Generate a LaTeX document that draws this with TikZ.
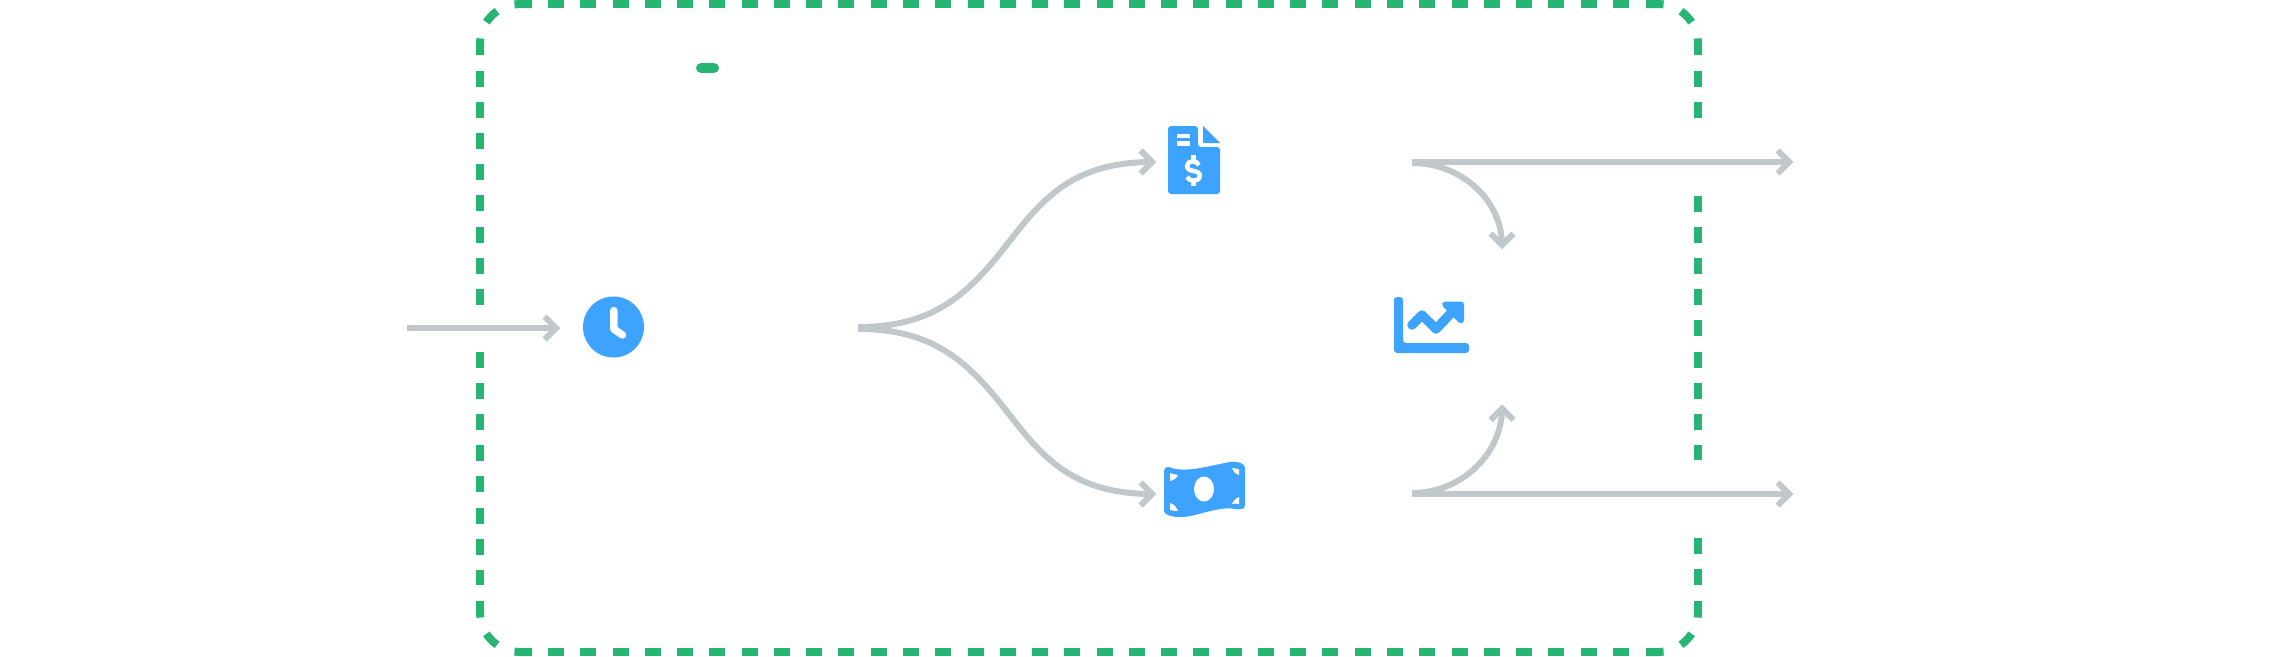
\documentclass[tikz,border=0pt]{standalone}
\definecolor{framegreen}{HTML}{27B574}
\definecolor{linegrey}{HTML}{C0C8CB}
\definecolor{iconblue}{HTML}{3EA3FF}
\tikzset{
  framedash/.style={draw=framegreen,line width=8pt,dash pattern=on 16pt off 15.1pt},
  framedashh/.style={draw=framegreen,line width=8pt,dash pattern=on 16pt off 16.27pt},
  framecurve/.style={draw=framegreen,line width=8pt},
  flow/.style={draw=linegrey,line width=6pt},
  chev/.style={draw=linegrey,line width=6pt,line join=miter,miter limit=4},
  iconfill/.style={fill=iconblue,draw=none},
  iconcut/.style={fill=white,draw=none},
  iconstroke/.style={draw=iconblue,line cap=round,line join=round},
  cutstroke/.style={draw=white,line cap=round,line join=round},
}
\begin{document}
\begin{tikzpicture}[x=1pt,y=-1pt]
\useasboundingbox (0,0) rectangle (2283,656);
% frame
\draw[framedashh] (548,4) -- (1630,4);
\draw[framedashh] (548,652) -- (1630,652);
\draw[framedash] (480,71) -- (480,305);
\draw[framedash] (480,352) -- (480,585);
\draw[framedash] (1698,71) -- (1698,118);
\draw[framedash] (1698,196) -- (1698,460);
\draw[framedash] (1698,538) -- (1698,585);
\foreach \sx/\sy in {1/1,-1/1,1/-1,-1/-1}{
  \begin{scope}[shift={(1089,328)},xscale=\sx,yscale=\sy]
    \draw[framecurve] (-557,-324) -- (-569,-324) arc[start angle=-90,end angle=-98,radius=40];
    \draw[framecurve] (-609,-273) -- (-609,-284) arc[start angle=180,end angle=188,radius=40];
    \draw[framecurve] (-569,-284) ++(-125:40) arc[start angle=-125,end angle=-147,radius=40];
  \end{scope}
}
% small pill
\draw[framegreen,line width=10pt,line cap=round] (701,68) -- (714,68);
% anchor points
\coordinate (inS) at (407,328);
\node[circle,iconfill,minimum size=61pt,inner sep=0pt] (clock) at (613.5,327) {};
\coordinate (inE) at (556,328);
\coordinate (branchU) at (858,327);
\coordinate (branchD) at (858,329);
\coordinate (midU) at (1005,247);
\coordinate (midD) at (1005,409);
\coordinate (invoiceIn) at (1152,162);
\coordinate (cashIn) at (1152,494);
\coordinate (topS) at (1412,162);
\coordinate (topE) at (1789,162);
\coordinate (botS) at (1412,494);
\coordinate (botE) at (1789,494);
\coordinate (arcTS) at (1412,163);
\coordinate (arcTE) at (1502,245);
\coordinate (arcBS) at (1412,493);
\coordinate (arcBE) at (1502,408.5);
% connectors
\draw[flow] (inS) -- (inE);
\draw[flow] (branchU) .. controls (930,327) and (965,298) .. (midU) .. controls (1040,202) and (1070,162) .. (invoiceIn);
\draw[flow] (branchD) .. controls (930,329) and (965,358) .. (midD) .. controls (1040,454) and (1070,494) .. (cashIn);
\draw[flow] (topS) -- (topE);
\draw[flow] (botS) -- (botE);
\draw[flow] (arcTS) .. controls (1461,163) and (1502,200) .. (arcTE);
\draw[flow] (arcBS) .. controls (1461,493) and (1502,454) .. (arcBE);
% arrowheads
\foreach \tip in {inE,invoiceIn,cashIn,topE,botE}{
  \draw[chev,shift={(\tip)}] (-11.4,-11.4) -- (0,0) -- (-11.4,11.4);
}
\draw[chev,shift={(arcTE)}] (-11.4,-11.4) -- (0,0) -- (11.4,-11.4);
\draw[chev,shift={(arcBE)}] (-11.4,11.4) -- (0,0) -- (11.4,11.4);
% clock hands
\draw[cutstroke,line width=7.5pt] (613.8,310.5) -- (613.8,329) -- (622.5,335);
% invoice icon
\fill[iconfill,rounded corners=3pt] (1168,126) -- (1198,126) -- (1198,147) -- (1220,147) -- (1220,194) -- (1168,194) -- cycle;
\fill[iconfill] (1203,126) -- (1220,143) -- (1203,143) -- cycle;
\fill[iconcut] (1177,134) rectangle (1190,138);
\fill[iconcut] (1177,141) rectangle (1190,146);
\draw[cutstroke,line width=4.5pt,line cap=butt] (1199,165) .. controls (1197,160) and (1187,160) .. (1187,166) .. controls (1187,173) and (1200,169) .. (1200,176) .. controls (1200,182) and (1189,182) .. (1187,177);
\draw[cutstroke,line width=4.5pt,line cap=butt] (1193.5,155) -- (1193.5,161);
\draw[cutstroke,line width=4.5pt,line cap=butt] (1193.5,181) -- (1193.5,186);
% banknote icon
\fill[iconfill] (1164,471) .. controls (1164,468) and (1166,466.5) .. (1169,467) .. controls (1185,474) and (1212,465) .. (1230,462) .. controls (1237,461) and (1245,463) .. (1245,468) -- (1245,505) .. controls (1245,510) and (1240,510) .. (1232,508.5) .. controls (1215,507) and (1192,518) .. (1180,517) .. controls (1172,517) and (1164,515) .. (1164,511) -- cycle;
\fill[iconcut] (1170,473) .. controls (1173,474) and (1175,474.5) .. (1178,475) .. controls (1177,478) and (1174,480) .. (1170,481) -- cycle;
\fill[iconcut] (1232,468) .. controls (1235,468) and (1237,468.5) .. (1239,469.5) -- (1239,475) .. controls (1235,474) and (1233,471) .. (1232,468) -- cycle;
\fill[iconcut] (1239,497) -- (1239,504) .. controls (1237,503.5) and (1234,503.5) .. (1232,504) .. controls (1233,501) and (1236,498) .. (1239,497) -- cycle;
\fill[iconcut] (1170,503) .. controls (1174,504) and (1177,508) .. (1178,511) .. controls (1175,511) and (1172,510.5) .. (1170,510) -- cycle;
\fill[iconcut] (1204,489) ellipse[x radius=10,y radius=12.5];
% chart icon
\fill[iconfill,rounded corners=3pt] (1394,297) -- (1403,297) -- (1403,343) -- (1469,343) -- (1469,353) -- (1394,353) -- cycle;
\draw[iconstroke,line width=9.5pt] (1412,325) -- (1422,315) -- (1436,329) -- (1453,311);
\draw[iconfill,draw=iconblue,fill=iconblue,line width=6pt,line join=round] (1445,304.5) -- (1461,304.5) -- (1461,320.5) -- cycle;
\end{tikzpicture}
\end{document}
